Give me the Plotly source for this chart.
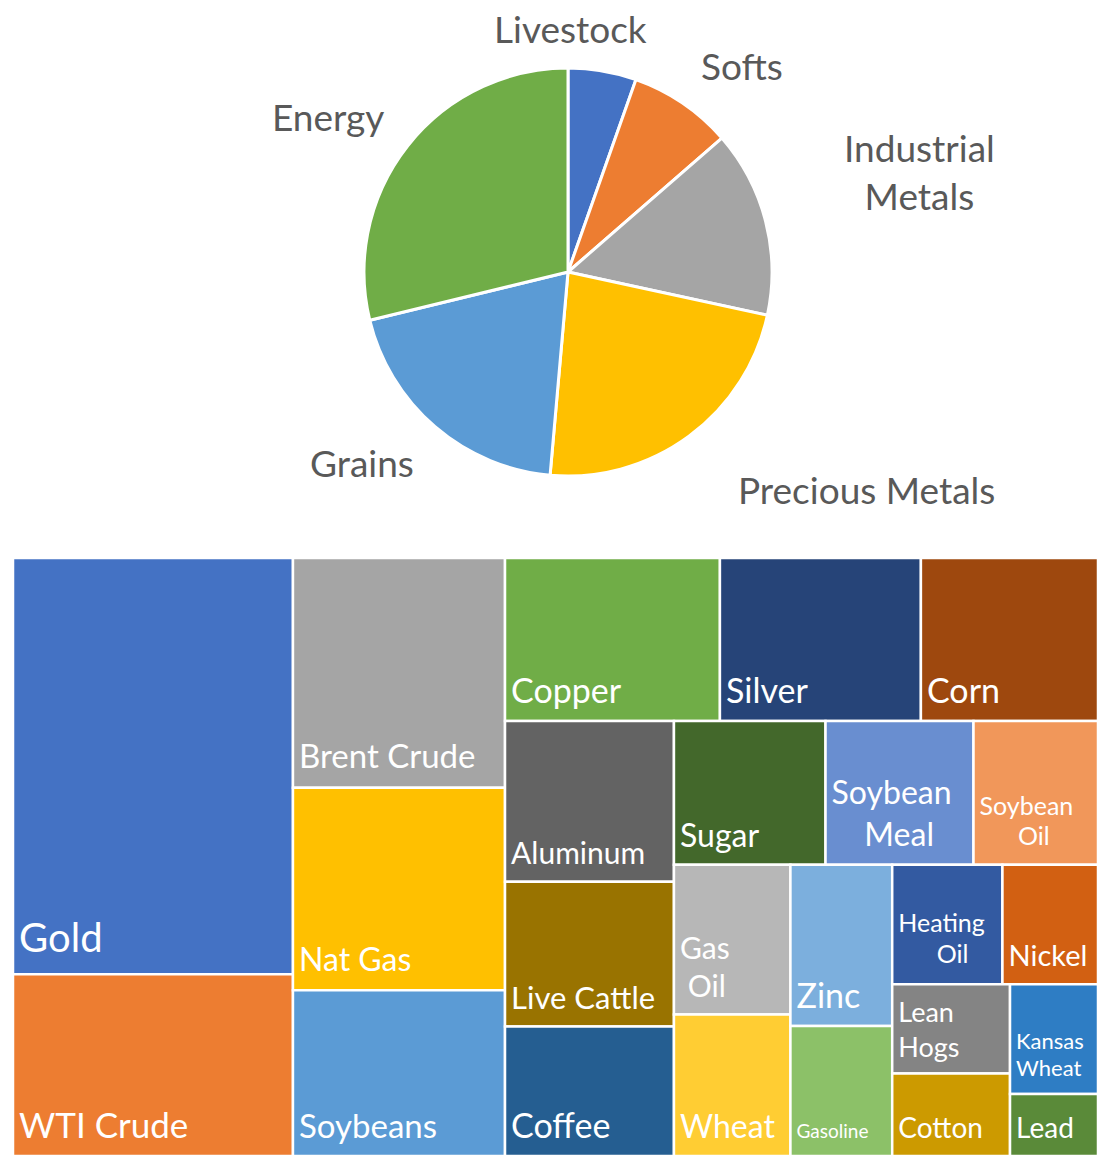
import plotly.graph_objects as go

# ---------------- data ----------------
sectors = ["Livestock", "Softs", "Industrial Metals", "Precious Metals", "Grains", "Energy"]
sector_weights = [5.4, 8.2, 14.8, 23.0, 19.8, 28.8]

commodities = ["Gold", "WTI Crude", "Brent Crude", "Nat Gas", "Soybeans", "Copper", "Silver", "Corn",
               "Aluminum", "Live Cattle", "Coffee", "Sugar", "Soybean Meal", "Soybean Oil", "Gas Oil",
               "Wheat", "Zinc", "Gasoline", "Heating Oil", "Nickel", "Lean Hogs", "Cotton",
               "Kansas Wheat", "Lead"]
commodity_weights = [17.97, 7.84, 7.51, 6.62, 5.42, 5.40, 5.05, 4.45,
                     4.19, 3.77, 3.37, 3.36, 3.28, 2.76, 2.69,
                     2.54, 2.53, 2.04, 2.03, 1.76, 1.62, 1.50,
                     1.49, 0.84]
# label lines as wrapped in the tiles
commodity_lines = [["Gold"], ["WTI Crude"], ["Brent Crude"], ["Nat Gas"], ["Soybeans"], ["Copper"],
                   ["Silver"], ["Corn"], ["Aluminum"], ["Live Cattle"], ["Coffee"], ["Sugar"],
                   ["Soybean", "Meal"], ["Soybean", "Oil"], ["Gas", "Oil"], ["Wheat"], ["Zinc"],
                   ["Gasoline"], ["Heating", "Oil"], ["Nickel"], ["Lean", "Hogs"], ["Cotton"],
                   ["Kansas", "Wheat"], ["Lead"]]

# ---------------- styles ----------------
W, H = 1100, 1156
FONT = "Lato, 'Open Sans', sans-serif"
NBSP = "\u00a0"
pie_colors = ["#4472C4", "#ED7D31", "#A5A5A5", "#FFC000", "#5B9BD5", "#70AD47"]
tile_colors = ["#4472C4", "#ED7D31", "#A5A5A5", "#FFC000", "#5B9BD5", "#70AD47",
               "#264478", "#9E480E", "#636363", "#997300", "#255E91", "#43682B",
               "#698ED0", "#F1975A", "#B7B7B7", "#FFCD33", "#7CAFDD", "#8CC168",
               "#335AA1", "#D26012", "#848484", "#CC9A00", "#2E7DC4", "#5A8A39"]
# label font size per tile
tile_font_sizes = [40, 35, 33, 32, 33, 34, 34, 34,
                   30, 31, 34, 32, 32, 25, 30,
                   32, 34, 19, 25, 29, 27, 28,
                   22, 28]
# small base size: sets bottom padding and line spacing (1.3 x base per break)
tile_base_sizes = [12.5, 10, 11, 11, 10, 10, 10, 10,
                   10, 10, 10, 10, 10.8, 11.5, 9.7,
                   10, 10, 10, 11.9, 10, 9, 10,
                   10.4, 10]
tile_breaks = [1, 1, 1, 1, 1, 1, 1, 1, 1, 1, 1, 1, 3, 2, 3, 1, 1, 1, 2, 1, 3, 1, 2, 1]
tile_indents = [[0], [0], [0], [0], [0], [0], [0], [0], [0], [0], [0], [0],
                [0, 4], [0, 6], [0, 1], [0], [0], [0], [0, 6], [0], [0, 0], [0], [0, 0], [0]]


def tile_text(lines, size, n_br, indents):
    pad = "<span style='font-size:12px'>" + NBSP + "</span>"
    parts = [pad + "<span style='font-size:%gpx'>%s%s</span>" % (size, NBSP * k, ln)
             for ln, k in zip(lines, indents)]
    return ("<br>" * n_br).join(parts) + "<br>" + NBSP


tile_texts = [tile_text(l, s, b, i) for l, s, b, i in
              zip(commodity_lines, tile_font_sizes, tile_breaks, tile_indents)]

# pie label positions (pixel centres) -> layout annotations
pie_label_px = {
    "Livestock": (570, 28),
    "Softs": (742, 66),
    "Industrial Metals": (920, 171),
    "Precious Metals": (866, 490),
    "Grains": (362, 463),
    "Energy": (328, 117),
}
pie_label_text = {"Industrial Metals": "Industrial<br>Metals"}

fig = go.Figure()

# pie: centre (568,272), radius 204 in pixels
cx, cy, r = 568, 272, 204
fig.add_trace(go.Pie(
    labels=sectors,
    values=sector_weights,
    sort=False,
    direction="clockwise",
    rotation=0,
    textinfo="none",
    marker=dict(colors=pie_colors, line=dict(color="white", width=3)),
    domain=dict(x=[(cx - r) / W, (cx + r) / W], y=[1 - (cy + r) / H, 1 - (cy - r) / H]),
    showlegend=False,
    hoverinfo="label+percent",
))

fig.add_trace(go.Treemap(
    labels=commodities,
    parents=[""] * len(commodities),
    values=commodity_weights,
    text=tile_texts,
    texttemplate="%{text}",
    textposition="bottom left",
    textfont=dict(family=FONT, color="white", size=tile_base_sizes),
    marker=dict(colors=tile_colors, line=dict(color="white", width=2.5), pad=dict(t=0, l=0, r=0, b=0)),
    tiling=dict(packing="squarify", squarifyratio=1, pad=0),
    pathbar=dict(visible=False),
    sort=True,
    domain=dict(x=[13 / W, 1098 / W], y=[0, 1 - 558 / H]),
    hoverinfo="label+value",
))

annotations = []
for name, (px, py) in pie_label_px.items():
    annotations.append(dict(
        x=px / W, y=1 - py / H, xref="paper", yref="paper",
        text=pie_label_text.get(name, name), showarrow=False,
        xanchor="center", yanchor="middle",
        font=dict(family=FONT, size=37, color="#595959"),
    ))

fig.update_layout(
    width=W, height=H,
    margin=dict(l=0, r=0, t=0, b=0),
    paper_bgcolor="white",
    plot_bgcolor="white",
    font=dict(family=FONT),
    annotations=annotations,
    showlegend=False,
)

fig.write_html("out.html")
